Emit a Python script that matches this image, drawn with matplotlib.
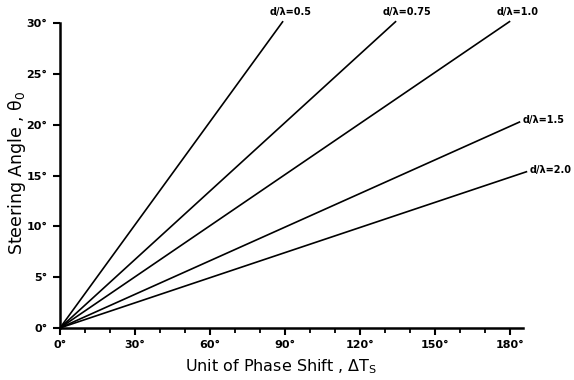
"""
Steering angle vs. unit of phase shift for several element spacings
"""

import matplotlib
matplotlib.use('Agg')
import matplotlib.pyplot as plt
from matplotlib.ticker import MultipleLocator

# spacing ratios d/lambda and the line end points
spacing_labels = ['d/λ=0.5', 'd/λ=0.75', 'd/λ=1.0', 'd/λ=1.5', 'd/λ=2.0']
phase_start = [0, 0, 0, 0, 0]
angle_start = [0, 0, 0, 0, 0]
phase_end = [89.2, 134.4, 180.0, 184.0, 186.8]
angle_end = [30.2, 30.2, 30.2, 20.3, 15.4]

x_ticks = [0, 30, 60, 90, 120, 150, 180]
y_ticks = [0, 5, 10, 15, 20, 25, 30]

fig = plt.figure(figsize=(5.74, 3.80), dpi=100)
ax = fig.add_axes([0.1045, 0.137, 0.807, 0.802])

for i, lbl in enumerate(spacing_labels):
    ax.plot([phase_start[i], phase_end[i]], [angle_start[i], angle_end[i]],
            color='black', linewidth=1.2, solid_capstyle='butt', clip_on=False)

# labels near the line ends
top = ['d/λ=0.5', 'd/λ=0.75', 'd/λ=1.0']
for i, lbl in enumerate(spacing_labels):
    if lbl in top:
        ax.annotate(lbl, (phase_end[i], angle_end[i]), xytext=(-10, 3),
                    textcoords='offset points', fontsize=7, fontweight='bold',
                    ha='left', va='bottom', annotation_clip=False)
    else:
        ax.annotate(lbl, (phase_end[i], angle_end[i]), xytext=(2, 1),
                    textcoords='offset points', fontsize=7, fontweight='bold',
                    ha='left', va='center', annotation_clip=False)

ax.set_xlim(0, 185.2)
ax.set_ylim(0, 30)
ax.set_xticks(x_ticks)
ax.set_xticklabels([f'{v}°' for v in x_ticks])
ax.set_yticks(y_ticks)
ax.set_yticklabels([f'{v}°' for v in y_ticks])
ax.xaxis.set_minor_locator(MultipleLocator(10))

for side in ['top', 'right']:
    ax.spines[side].set_visible(False)
for side in ['left', 'bottom']:
    ax.spines[side].set_linewidth(1.8)

ax.tick_params(axis='both', which='major', direction='out', length=5, width=1.5,
               labelsize=8, pad=4)
ax.tick_params(axis='x', which='minor', direction='out', length=3.5, width=1.3)
for t in ax.get_xticklabels() + ax.get_yticklabels():
    t.set_fontweight('bold')

ax.set_xlabel('Unit of Phase Shift , ΔT$_\\mathrm{S}$', fontsize=11.5, labelpad=6)
ax.set_ylabel('Steering Angle , θ$_0$', fontsize=12.5)
ax.xaxis.set_label_coords(0.478, -0.095)
ax.yaxis.set_label_coords(-0.07, 0.51)

fig.savefig('out.png', dpi=100)
